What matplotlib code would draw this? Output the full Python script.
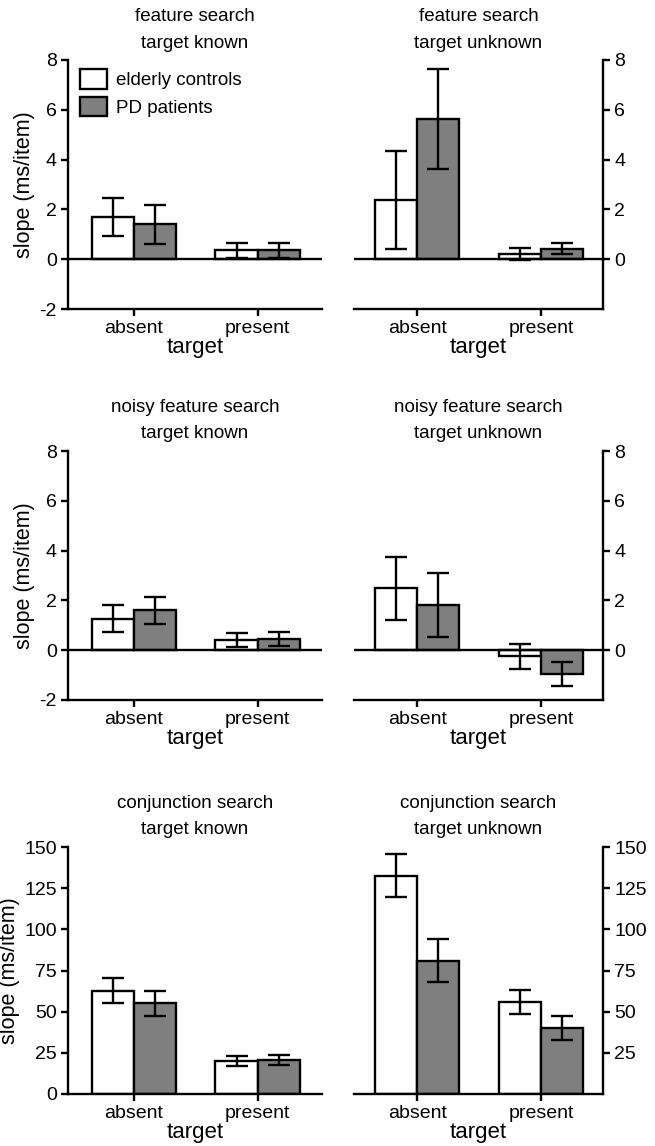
"""Search slopes for elderly controls vs PD patients, six panels."""

import matplotlib
matplotlib.use("Agg")
import matplotlib.pyplot as plt
from matplotlib.patches import Patch

plt.rcParams["font.family"] = ["Liberation Sans", "DejaVu Sans"]
plt.rcParams["axes.unicode_minus"] = False

# Data (slopes in ms/item)
CONDITIONS = ["absent", "present"]
TITLES = [
    "feature search\ntarget known", "feature search\ntarget unknown",
    "noisy feature search\ntarget known", "noisy feature search\ntarget unknown",
    "conjunction search\ntarget known", "conjunction search\ntarget unknown",
]
CTRL_MEAN = [[1.70, 0.35], [2.38, 0.20], [1.27, 0.42], [2.48, -0.24], [62.8, 20.0], [132.5, 56.0]]
CTRL_ERR = [[0.77, 0.30], [1.98, 0.24], [0.55, 0.28], [1.27, 0.50], [7.4, 3.0], [13.0, 7.3]]
PD_MEAN = [[1.40, 0.35], [5.62, 0.42], [1.60, 0.45], [1.82, -0.97], [55.0, 20.5], [81.0, 40.0]]
PD_ERR = [[0.78, 0.30], [2.00, 0.23], [0.55, 0.28], [1.27, 0.48], [7.5, 3.0], [13.0, 7.5]]
LEGEND_LABELS = ["elderly controls", "PD patients"]

GREY = "#7f7f7f"
LW = 1.7
W, H = 655, 1146

# axes boxes in pixels: (left, right, top, bottom)
COLS = [(68, 322), (354, 603)]
ROWS = [(60, 309), (451, 700), (847, 1094)]

fig = plt.figure(figsize=(W / 100, H / 100), dpi=100)

for i, title in enumerate(TITLES):
    r, c = divmod(i, 2)
    l, rt = COLS[c]
    t, b = ROWS[r]
    ax = fig.add_axes([l / W, 1 - b / H, (rt - l) / W, (b - t) / H])

    x = [0, 1]
    bw = 0.34
    ekw = dict(elinewidth=LW, capsize=8, capthick=LW, ecolor="black")
    ax.bar([xi - bw / 2 for xi in x], CTRL_MEAN[i], bw, yerr=CTRL_ERR[i],
           color="white", edgecolor="black", linewidth=LW, error_kw=ekw,
           zorder=2)
    ax.bar([xi + bw / 2 for xi in x], PD_MEAN[i], bw, yerr=PD_ERR[i],
           color=GREY, edgecolor="black", linewidth=LW, error_kw=ekw,
           zorder=2)

    if r < 2:
        ax.set_ylim(-2, 8)
        ax.axhline(0, color="black", linewidth=LW, zorder=3)
        ticks = [-2, 0, 2, 4, 6, 8] if c == 0 else [0, 2, 4, 6, 8]
    else:
        ax.set_ylim(0, 150)
        ticks = [0, 25, 50, 75, 100, 125, 150] if c == 0 else [25, 50, 75, 100, 125, 150]
    ax.set_yticks(ticks)
    ax.set_xlim(-0.53, 1.52) if c == 0 else ax.set_xlim(-0.51, 1.5)
    ax.set_xticks(x)
    ax.set_xticklabels(CONDITIONS)

    for s in ["top", "left", "right"]:
        ax.spines[s].set_visible(False)
    side = "left" if c == 0 else "right"
    ax.spines[side].set_visible(True)
    ax.spines[side].set_linewidth(LW)
    ax.spines["bottom"].set_linewidth(LW)
    if c == 1:
        ax.yaxis.tick_right()
    ax.tick_params(direction="out", length=5, width=LW, labelsize=14, pad=3)

    ax.set_title(title, fontsize=13.5, pad=9, linespacing=1.75)
    ax.set_xlabel("target", fontsize=16, labelpad=0)
    if c == 0:
        ax.set_ylabel("slope (ms/item)", fontsize=15.5, labelpad=3)

    if i == 0:
        handles = [Patch(facecolor="white", edgecolor="black", linewidth=LW),
                   Patch(facecolor=GREY, edgecolor="black", linewidth=LW)]
        ax.legend(handles, LEGEND_LABELS, loc="upper left", frameon=False,
                  fontsize=13.5, handlelength=1.45, handleheight=1.2,
                  handletextpad=0.5, labelspacing=0.4, borderaxespad=0.1,
                  bbox_to_anchor=(0.01, 1.0))

fig.savefig("out.png", dpi=100)
